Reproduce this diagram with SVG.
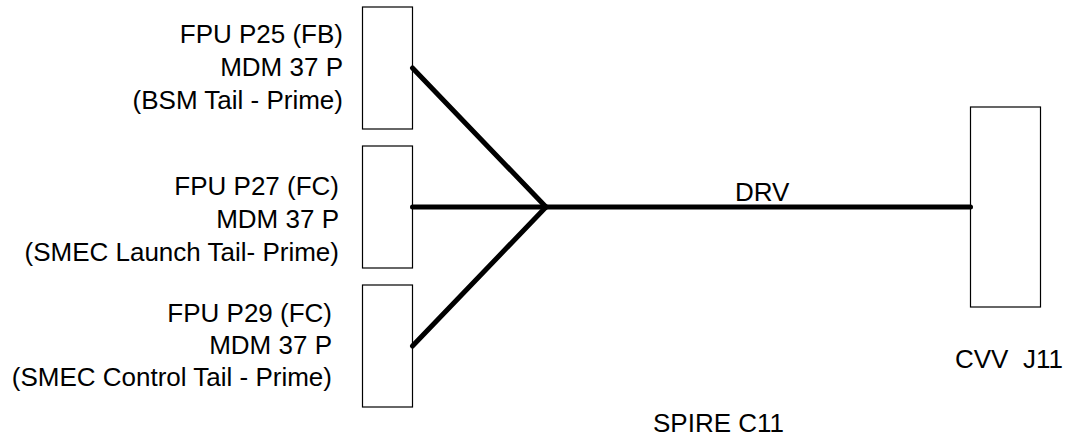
<svg xmlns="http://www.w3.org/2000/svg" width="1066" height="438" viewBox="0 0 1066 438">
<style>
.box{fill:#fff;stroke:#000;stroke-width:1.2}
.lbl{font-family:"Liberation Sans",Arial,sans-serif;font-size:26px;fill:#000;white-space:pre}
.r{text-anchor:end}
.wire{stroke:#000;stroke-width:5;stroke-linecap:round;fill:none}
</style>
<rect width="1066" height="438" fill="#fff"/>
<g id="node-p25">
<rect class="box" x="362.5" y="7" width="50" height="122"/>
<text class="lbl r" x="343" y="43">FPU P25 (FB)</text>
<text class="lbl r" x="343" y="76">MDM 37 P</text>
<text class="lbl r" x="343" y="109">(BSM Tail - Prime)</text>
</g>
<g id="node-p27">
<rect class="box" x="362.5" y="146" width="50" height="122"/>
<text class="lbl r" x="339" y="195">FPU P27 (FC)</text>
<text class="lbl r" x="339" y="228">MDM 37 P</text>
<text class="lbl r" x="339" y="261">(SMEC Launch Tail- Prime)</text>
</g>
<g id="node-p29">
<rect class="box" x="362.5" y="285" width="50" height="122"/>
<text class="lbl r" x="332" y="322">FPU P29 (FC)</text>
<text class="lbl r" x="332" y="354">MDM 37 P</text>
<text class="lbl r" x="332" y="386">(SMEC Control Tail - Prime)</text>
</g>
<g id="node-j11">
<rect class="box" x="970.5" y="107" width="70" height="200"/>
<text class="lbl" x="955" y="368" xml:space="preserve">CVV  J11</text>
</g>
<g id="connectors">
<line class="wire" x1="412.5" y1="68" x2="546" y2="207"/>
<line class="wire" x1="412.5" y1="207" x2="546" y2="207"/>
<line class="wire" x1="412.5" y1="346" x2="546" y2="207"/>
<line class="wire" x1="546" y1="207" x2="970.5" y2="207"/>
<text class="lbl" x="735" y="201">DRV</text>
</g>
<text class="lbl" x="653" y="432">SPIRE C11</text>
</svg>
